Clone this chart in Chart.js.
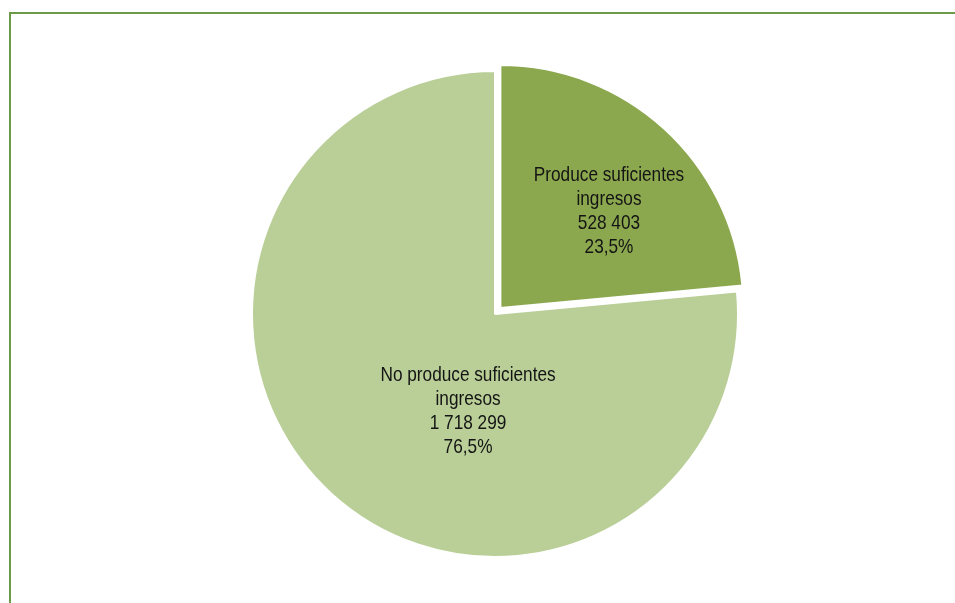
<!DOCTYPE html>
<html>
<head>
<meta charset="utf-8">
<script src="https://cdn.jsdelivr.net/npm/chart.js@4.4.0/dist/chart.umd.min.js"></script>
<style>
  html, body { margin: 0; padding: 0; background: #fff; }
  body { width: 955px; height: 603px; position: relative; overflow: hidden; }
  .frame {
    position: absolute; left: 9px; top: 12px; right: -4px; bottom: -4px;
    border-top: 2px solid #6b9a48; border-left: 2px solid #6b9a48;
  }
  #wrap { position: absolute; left: 235px; top: 54px; width: 520px; height: 520px; }
</style>
</head>
<body>
<div class="frame"></div>
<div id="wrap"><canvas id="pie" width="520" height="520"></canvas></div>
<script>
  // data
  const categories = ['Produce suficientes ingresos', 'No produce suficientes ingresos'];
  const labelLines = [
    ['Produce suficientes', 'ingresos'],
    ['No produce suficientes', 'ingresos']
  ];
  const values = [528403, 1718299];
  const valueLabels = ['528 403', '1 718 299'];
  const percentLabels = ['23,5%', '76,5%'];

  const sliceColors = ['#8ca84f', '#b9cf97'];
  // label block centres, in units of the radius from the pie centre
  const labelSpots = [[0.469, -0.429], [-0.111, 0.395]];

  // no narrow font installed, so squeeze Liberation Sans horizontally
  const NARROW = 0.82;

  const labelPlugin = {
    id: 'sliceLabels',
    afterDatasetsDraw(chart) {
      const ctx = chart.ctx;
      const arcs = chart.getDatasetMeta(0).data;
      arcs.forEach((arc, i) => {
        const r = arc.outerRadius;
        const cx = arc.x + labelSpots[i][0] * r;
        const cy = arc.y + labelSpots[i][1] * r;
        const lines = labelLines[i].concat([valueLabels[i], percentLabels[i]]);
        const lh = 24;
        const first = cy - (lines.length - 1) * lh / 2 + 7.5;
        ctx.save();
        ctx.translate(cx, 0);
        ctx.scale(NARROW, 1);
        ctx.font = '21px "Liberation Sans", Arial, sans-serif';
        ctx.fillStyle = '#141414';
        ctx.textAlign = 'center';
        ctx.textBaseline = 'alphabetic';
        lines.forEach((t, k) => ctx.fillText(t, 0, first + k * lh));
        ctx.restore();
      });
    }
  };

  new Chart(document.getElementById('pie'), {
    type: 'pie',
    data: {
      labels: categories,
      datasets: [{
        data: values,
        backgroundColor: sliceColors,
        borderColor: '#ffffff',
        borderWidth: 2,
        offset: [32, 0]   // chart.js draws offset/4 px
      }]
    },
    options: {
      responsive: false,
      animation: false,
      layout: { padding: 0 },
      plugins: { legend: { display: false }, tooltip: { enabled: false } }
    },
    plugins: [labelPlugin]
  });
</script>
</body>
</html>
